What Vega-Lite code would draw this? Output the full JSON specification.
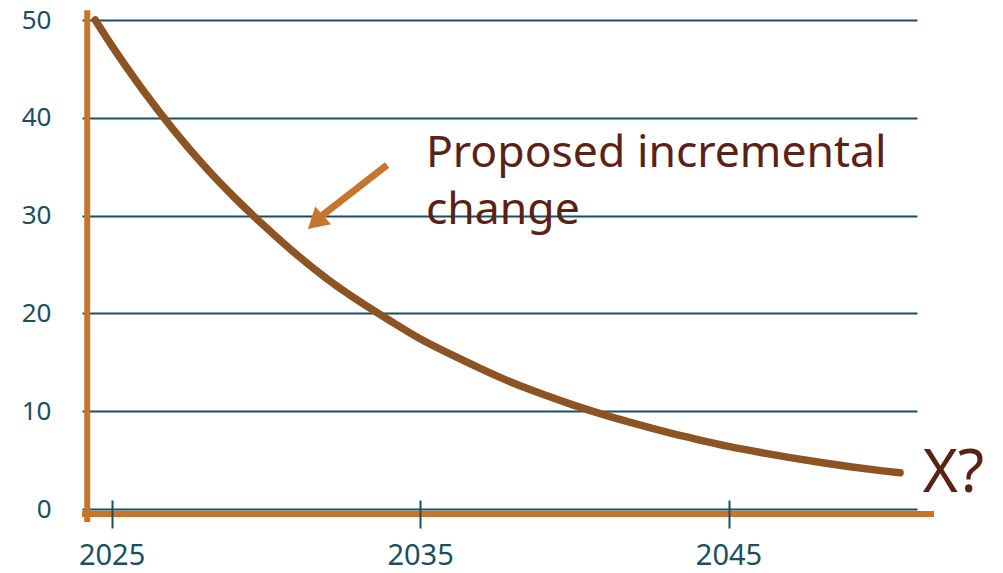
{
  "$schema": "https://vega.github.io/schema/vega-lite/v6.json",
  "width": 835,
  "height": 489,
  "autosize": {"type": "none"},
  "padding": {"left": 82, "top": 20, "right": 86, "bottom": 64},
  "background": "white",
  "config": {"view": {"stroke": null}, "font": "Noto Sans"},
  "datasets": {
    "curve": [
      {"year": 2024.47, "value": 50},
      {"year": 2025, "value": 47.4},
      {"year": 2026, "value": 42.9},
      {"year": 2027, "value": 38.8},
      {"year": 2028, "value": 35.1},
      {"year": 2029, "value": 31.8},
      {"year": 2030, "value": 28.8},
      {"year": 2031, "value": 26.0},
      {"year": 2032, "value": 23.5},
      {"year": 2033, "value": 21.3},
      {"year": 2034, "value": 19.3},
      {"year": 2035, "value": 17.4},
      {"year": 2036, "value": 15.8},
      {"year": 2037, "value": 14.3},
      {"year": 2038, "value": 12.9},
      {"year": 2039, "value": 11.7},
      {"year": 2040, "value": 10.6},
      {"year": 2041, "value": 9.6},
      {"year": 2042, "value": 8.7},
      {"year": 2043, "value": 7.85},
      {"year": 2044, "value": 7.1},
      {"year": 2045, "value": 6.4},
      {"year": 2046, "value": 5.8},
      {"year": 2047, "value": 5.25},
      {"year": 2048, "value": 4.75},
      {"year": 2049, "value": 4.3},
      {"year": 2050, "value": 3.9},
      {"year": 2050.56, "value": 3.7}
    ]
  },
  "layer": [
    {
      "data": {"name": "curve"},
      "mark": {"type": "line", "color": "#8B5422", "strokeWidth": 7.5, "strokeCap": "round", "interpolate": "monotone"},
      "encoding": {
        "x": {
          "field": "year", "type": "quantitative",
          "scale": {"domain": [2024.04, 2051.11], "nice": false, "zero": false},
          "axis": {
            "values": [2025, 2035, 2045], "format": "d", "title": null,
            "orient": "bottom", "offset": -9, "domain": false, "grid": false,
            "ticks": true, "tickSize": 28, "tickWidth": 2, "tickColor": "#1B4F5F",
            "labelFontSize": 29, "labelColor": "#1B4F5F", "labelPadding": 13,
            "labelFont": "Noto Sans", "zindex": 1
          }
        },
        "y": {
          "field": "value", "type": "quantitative",
          "scale": {"domain": [0, 50], "nice": false},
          "axis": {
            "values": [0, 10, 20, 30, 40, 50], "title": null,
            "domain": false, "ticks": false, "grid": true,
            "gridColor": "#1B4F5F", "gridWidth": 2,
            "labelFontSize": 26, "labelColor": "#1B4F5F", "labelPadding": 31,
            "labelFont": "Noto Sans", "zindex": 0
          }
        }
      }
    },
    {
      "data": {"values": [{"x": 2024.21, "y": -1.33, "y2": 51.0}]},
      "mark": {"type": "rule", "color": "#C5752D", "strokeWidth": 6},
      "encoding": {
        "x": {"field": "x", "type": "quantitative"},
        "y": {"field": "y", "type": "quantitative"},
        "y2": {"field": "y2"}
      }
    },
    {
      "data": {"values": [{"x": 2024.04, "x2": 2051.66, "y": -0.51}]},
      "mark": {"type": "rule", "color": "#C5752D", "strokeWidth": 6},
      "encoding": {
        "x": {"field": "x", "type": "quantitative"},
        "x2": {"field": "x2"},
        "y": {"field": "y", "type": "quantitative"}
      }
    },
    {
      "data": {"values": [{"x": 2033.93, "y": 35.17, "x2": 2031.76, "y2": 29.86}]},
      "mark": {"type": "rule", "color": "#C5752D", "strokeWidth": 7},
      "encoding": {
        "x": {"field": "x", "type": "quantitative"},
        "x2": {"field": "x2"},
        "y": {"field": "y", "type": "quantitative"},
        "y2": {"field": "y2"}
      }
    },
    {
      "data": {"values": [{"x": 2031.61, "y": 29.32}]},
      "mark": {"type": "point", "shape": "triangle-up", "filled": true, "color": "#C5752D", "opacity": 1, "size": 560, "angle": 228},
      "encoding": {
        "x": {"field": "x", "type": "quantitative"},
        "y": {"field": "y", "type": "quantitative"}
      }
    },
    {
      "data": {"values": [
        {"x": 2035.19, "y": 34.97, "label": "Proposed incremental\nchange"}
      ]},
      "mark": {"type": "text", "align": "left", "baseline": "alphabetic", "fontSize": 44.5, "lineBreak": "\n", "lineHeight": 57, "color": "#5A2216", "font": "Noto Sans"},
      "encoding": {
        "x": {"field": "x", "type": "quantitative"},
        "y": {"field": "y", "type": "quantitative"},
        "text": {"field": "label"}
      }
    },
    {
      "data": {"values": [{"x": 2051.3, "y": 1.74, "label": "X?"}]},
      "mark": {"type": "text", "align": "left", "baseline": "alphabetic", "fontSize": 60, "color": "#5A2216", "font": "Noto Sans"},
      "encoding": {
        "x": {"field": "x", "type": "quantitative"},
        "y": {"field": "y", "type": "quantitative"},
        "text": {"field": "label"}
      }
    }
  ]
}
